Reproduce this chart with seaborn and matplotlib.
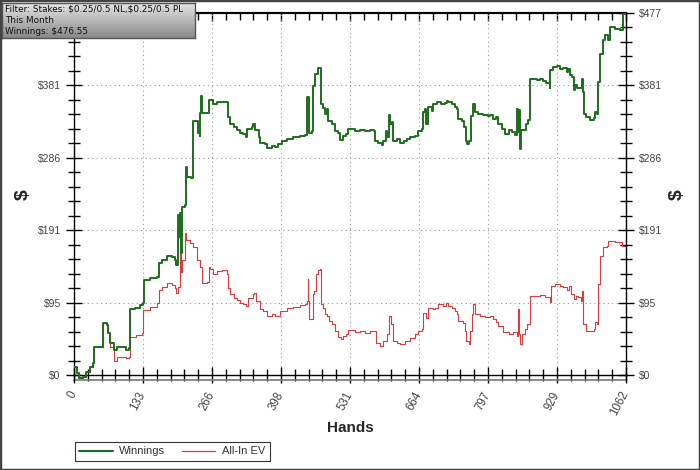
import matplotlib
matplotlib.use('Agg')
import matplotlib.pyplot as plt
import matplotlib.colors as mcolors
from matplotlib.colors import LinearSegmentedColormap
import seaborn as sns
import pandas as pd
import numpy as np
from matplotlib.ticker import AutoMinorLocator, FixedLocator, NullFormatter
from matplotlib.patches import Rectangle
from matplotlib.lines import Line2D

# ---------------- data ----------------
hands_w = [0, 5, 10, 18, 23, 31, 36, 38, 50, 56, 63, 65, 69, 76, 82, 95, 101, 106, 108, 117, 127, 133, 135, 146,
           160, 164, 169, 178, 188, 194, 197, 200, 201, 203, 204, 205, 207, 213, 215, 217, 226, 228, 235, 239, 242,
           243, 245, 247, 255, 260,
           262, 268, 275, 281, 291, 296, 300, 307, 313, 319, 326, 330, 332, 342, 345, 348, 355, 358, 368, 371, 380,
           387, 393, 400, 409, 422, 435, 444, 448, 449, 452, 457, 459, 464, 470, 475, 480, 483, 486, 489, 496, 502,
           508, 512, 518, 524, 528,
           531, 541, 550, 560, 569, 577, 579, 585, 592, 595, 600, 603, 606, 608, 611, 614, 621, 627, 634, 640, 646,
           656, 662, 669, 671, 675, 677, 682, 688, 691, 699, 707, 714, 717, 720, 727, 733, 737, 739, 746, 750, 754,
           757, 760, 763, 768, 771, 778, 787, 797,
           800, 807, 812, 816, 823, 829, 836, 842, 848, 853, 855, 857, 858, 860, 865, 870, 874, 877, 884, 890, 897,
           903, 909, 915, 916, 922, 929, 935, 941, 948, 951, 954, 959, 961, 964, 967, 973, 977, 979, 981, 986, 993,
           1001, 1002, 1006, 1009, 1012, 1018, 1022, 1028, 1032, 1041, 1050, 1056, 1057, 1060, 1062]
winnings = [11, 2.2, -3.5, -2.2, 4.4, 11, 15.4, 37.3, 37.3, 68, 65.9, 54.9, 41.7, 32.9, 37.3, 37.3, 32.9, 35.1, 86.5,
            88.7, 92.2, 94.4, 125.2, 127.4, 129.6, 147.1, 151.5, 156.8, 155.9, 151.5, 144.9, 155.9, 210.8, 182.3,
            213, 160.3, 221.8, 224, 273.6, 261.3, 259.1, 333.8, 333.8, 318.4, 314, 344.8, 366.7, 344.8, 344.8, 362.3,
            362, 357, 359, 360, 359, 339, 330, 326, 322, 319, 317, 313, 324, 326, 331, 322, 313, 306, 304, 299, 302,
            300, 304, 308, 311, 313, 315, 316, 319, 366, 319, 321, 381, 396, 404, 357, 352, 343, 350, 335, 330, 321,
            319, 310, 314, 317, 324,
            323.7, 321.5, 322.4, 321.5, 322.4, 320.6, 308.3, 306, 303, 308.3, 321.5, 312.7, 342.6, 330.3, 332.5,
            308.3, 310.5, 306, 308.3, 310.5, 312.7, 315, 321.5, 323.7, 345.7, 350, 330.3, 352.2, 347.9, 356.6,
            358.8, 356.6, 357.5, 361, 358.8, 356.6, 352.2, 350, 337, 334.8, 326, 308.3, 304, 308.3, 341, 356.6,
            345.7, 343.5, 342.6, 341.3,
            341.7, 337.3, 339.5, 330.7, 324.1, 317.6, 321.9, 319.7, 315.4, 350.5, 319.7, 348.3, 297.8, 321.9, 321.9,
            330.7, 335.1, 390, 390, 387.8, 389.1, 387, 384.3, 378.2, 401, 405.4, 406.3, 403.2, 404.5, 398.8, 403.2,
            394.4, 392.2, 375.5, 381.2, 378.2, 378.2, 389.1, 372.5, 343.9, 339.5, 336, 338.6, 346, 343.9, 385.6,
            422.9, 441.4, 447.1, 441.4, 458, 455.9, 453.7, 458, 474.8, 474.8, 476.55]

hands_ev = [0, 5, 10, 18, 23, 31, 36, 38, 50, 56, 63, 65, 69, 76, 82, 95, 101, 106, 108, 120, 130, 133, 146, 159,
            164, 169, 178, 188, 194, 197, 200, 203, 205, 207, 213, 215, 223, 229, 236, 242, 247, 255, 260,
            262, 268, 275, 284, 294, 296, 300, 307, 313, 319, 326, 330, 335, 344, 346, 351, 358, 364, 371, 380, 387,
            396, 409, 422, 435, 444, 448, 450, 451, 453, 458, 459, 462, 466, 470, 473, 475, 480, 483, 487, 490, 496,
            502, 508, 513, 518, 524, 528,
            531, 541, 550, 560, 569, 581, 589, 595, 602, 606, 609, 613, 621, 627, 637, 646, 656, 662, 669, 672, 677,
            682, 690, 694, 701, 710, 716, 719, 727, 733, 737, 739, 748, 752, 755, 759, 762, 765, 768, 771, 781, 791,
            800, 807, 812, 816, 826, 836, 845, 852, 855, 857, 859, 861, 868, 872, 877, 887, 897, 906, 915, 917, 925,
            935, 941, 948, 953, 957, 962, 966, 970, 975, 977, 980, 986, 994, 1001, 1002, 1007, 1009, 1012, 1018,
            1025, 1028, 1034, 1041, 1050, 1054, 1062]
allin_ev = [11, 2.2, -3.5, -2.2, 4.4, 11, 15.4, 37.3, 37.3, 68, 65.9, 54.9, 37.3, 18.4, 24.2, 23.3, 22, 24.2, 50.5,
            52.7, 54.9, 85.6, 90, 94.4, 112, 116.4, 121.7, 118.6, 114.2, 107.6, 116.4, 173.5, 136.1, 151.5, 186.7,
            177.9, 173.5, 169, 151.5, 142.7, 121.7, 123, 142.7,
            139.2, 133.5, 137, 138, 132.6, 115, 106, 102, 98.4, 95.3, 93, 91, 102, 106, 108.5, 97.5, 86.5, 84.3,
            77.8, 80, 77.8, 84.3, 88.7, 89.6, 91.8, 93, 97.5, 126, 97.5, 74.2, 74.2, 106, 110.7, 132.6, 138, 139.2,
            93, 88.7, 80, 77.8, 71.2, 66.8, 58, 50, 47, 51.4, 54.5, 59.8,
            58.9, 57.1, 58, 55.8, 58, 42.6, 38.2, 44.8, 53.6, 77.8, 66.8, 44.8, 42.6, 40.4, 44.8, 49.1, 53.6, 58,
            60.2, 82.1, 75.5, 88.7, 86.5, 88.7, 93, 91, 95.3, 91, 88.7, 84.3, 80, 71.2, 69, 58, 44.8, 40.4, 58, 80,
            93, 80, 77.8, 76.5,
            78.2, 73.8, 69.4, 65, 56.2, 54, 56.2, 51.8, 87, 54, 40.8, 54, 60.6, 67.2, 104.5, 104.5, 105.8, 102.3,
            95.8, 117.7, 119.9, 117.7, 115.5, 112, 117.7, 106.8, 100.2, 104.5, 102.3, 97.9, 111, 67.2, 58.4, 57.5,
            60.6, 69.4, 67.2, 119.9, 157.2, 168.2, 170.4, 177, 177, 174.8, 174.8, 170.4, 168.2]

x_tick_vals = [0, 132.75, 265.5, 398.25, 531, 663.75, 796.5, 929.25, 1062]
x_tick_labels = ['0', '133', '266', '398', '531', '664', '797', '929', '1062']
y_tick_vals = [0, 95.31, 190.62, 285.93, 381.24, 476.55]
y_tick_labels = ['$0', '$95', '$191', '$286', '$381', '$477']
series_names = ['Winnings', 'All-In EV']
info_lines = ['Filter: Stakes: $0.25/0.5 NL,$0.25/0.5 PL', 'This Month', 'Winnings: $476.55']

# ---------------- style ----------------
sns.set_theme(style='white')
plt.rcParams['font.family'] = ['Liberation Sans Narrow', 'Liberation Sans', 'DejaVu Sans']
plt.rcParams['text.parse_math'] = False

colors = {'Winnings': '#1e6e1e', 'All-In EV': '#d83c3c'}

df = pd.concat([
    pd.DataFrame({'Hands': hands_w, 'Dollars': winnings, 'Series': series_names[0]}),
    pd.DataFrame({'Hands': hands_ev, 'Dollars': allin_ev, 'Series': series_names[1]}),
], ignore_index=True)

fig = plt.figure(figsize=(7, 4.7), dpi=100)
fig.patch.set_facecolor('white')
ax = fig.add_axes([74 / 700, 1 - 380 / 470, 552 / 700, 367 / 470])

sns.lineplot(data=df, x='Hands', y='Dollars', hue='Series', hue_order=['All-In EV', 'Winnings'],
             palette=colors, estimator=None, sort=False, drawstyle='steps-post', ax=ax, legend=False)
for line in ax.lines:
    c = mcolors.to_hex(line.get_color())
    if c == colors['Winnings']:
        line.set_linewidth(1.4)
        line.set_zorder(3)
    else:
        line.set_linewidth(0.8)
        line.set_zorder(2)

ax.set_xlim(0, 1062)
ax.set_ylim(-6.6, 476.55)
ax.set_xlabel('')
ax.set_ylabel('')

ax.xaxis.set_major_locator(FixedLocator(x_tick_vals))
ax.yaxis.set_major_locator(FixedLocator(y_tick_vals))
ax.xaxis.set_minor_locator(AutoMinorLocator(5))
ax.yaxis.set_minor_locator(AutoMinorLocator(5))
ax.set_yticklabels(y_tick_labels)
ax.set_xticklabels(x_tick_labels)

ax.spines['bottom'].set_position(('data', 0))
for s in ax.spines.values():
    s.set_color('black')
    s.set_linewidth(1.0)
ax.spines['top'].set_linewidth(1.5)
ax.plot([0, 1], [0, 0], transform=ax.transAxes, color='#777777', lw=1.2, clip_on=False)

ax.tick_params(axis='both', which='major', direction='inout', length=11, width=1, color='black',
               labelsize=7.5, labelcolor='#444444', left=True, right=True, bottom=True, top=False,
               labelright=True, labelleft=True)
ax.tick_params(axis='both', which='minor', direction='inout', length=8, width=1, color='black',
               left=True, right=True, bottom=True, top=False)
ax.tick_params(axis='x', which='major', pad=7, labelrotation=62, labelsize=8.3)
ax.tick_params(axis='y', which='major', pad=4)

# top axis: ticks pointing inward only
top = ax.secondary_xaxis('top')
top.xaxis.set_major_locator(FixedLocator(x_tick_vals))
top.xaxis.set_minor_locator(AutoMinorLocator(5))
top.xaxis.set_major_formatter(NullFormatter())
top.tick_params(axis='x', which='major', direction='in', length=6, width=1, color='black', labeltop=False)
top.tick_params(axis='x', which='minor', direction='in', length=5, width=1, color='black', labeltop=False)
top.spines['top'].set_linewidth(1.5)

ax.grid(True, which='major', linestyle=(0, (1, 3)), color='#999999', linewidth=0.8)
ax.set_axisbelow(True)

# axis titles
fig.text(23 / 700, 1 - 195 / 470, '$', rotation=90, fontsize=14, fontweight='bold',
         ha='center', va='center', family=['Liberation Sans', 'DejaVu Sans'])
fig.text(677 / 700, 1 - 195 / 470, '$', rotation=90, fontsize=14, fontweight='bold',
         ha='center', va='center', family=['Liberation Sans', 'DejaVu Sans'])
fig.text(350 / 700, 1 - 428 / 470, 'Hands', fontsize=11, fontweight='bold',
         ha='center', va='center', family=['Liberation Sans', 'DejaVu Sans'])

# legend
handles = [Line2D([], [], color=colors['Winnings'], lw=1.5),
           Line2D([], [], color=colors['All-In EV'], lw=0.9)]
leg = fig.legend(handles, series_names, loc='upper left', bbox_to_anchor=(75 / 700, 1 - 442 / 470),
                 ncol=2, frameon=True, fancybox=False, fontsize=8, borderaxespad=0,
                 handlelength=3.0, columnspacing=1.5, borderpad=0.4, handletextpad=0.6)
leg.get_frame().set_edgecolor('black')
leg.get_frame().set_linewidth(0.8)
for t in leg.get_texts():
    t.set_color('#333333')

# info box with gradient
box = fig.add_axes([2 / 700, 1 - 38 / 470, 193 / 700, 35 / 470])
grad = np.linspace(0, 1, 64).reshape(-1, 1)
cmap = LinearSegmentedColormap.from_list('g', ['#e4e4e4', '#8a8a8a'])
box.imshow(grad, aspect='auto', cmap=cmap, extent=[0, 1, 0, 1], origin='upper')
box.set_xlim(0, 1)
box.set_ylim(0, 1)
box.set_xticks([])
box.set_yticks([])
for s in box.spines.values():
    s.set_color('#555555')
    s.set_linewidth(1)
box.text(0.015, 0.5, '\n'.join(info_lines), fontsize=6.4, color='#111111', ha='left', va='center',
         linespacing=1.32, family=['DejaVu Sans'], transform=box.transAxes)

# outer border
fig.patches.append(Rectangle((0, 0), 1, 1, transform=fig.transFigure, fill=False,
                             edgecolor='#444444', linewidth=2.5))

fig.canvas.draw()
for lbl in ax.get_xticklabels():
    lbl.set_rotation(62)
    lbl.set_ha('right')
    lbl.set_va('center')
    lbl.set_rotation_mode('anchor')

fig.savefig('out.png', dpi=100)
